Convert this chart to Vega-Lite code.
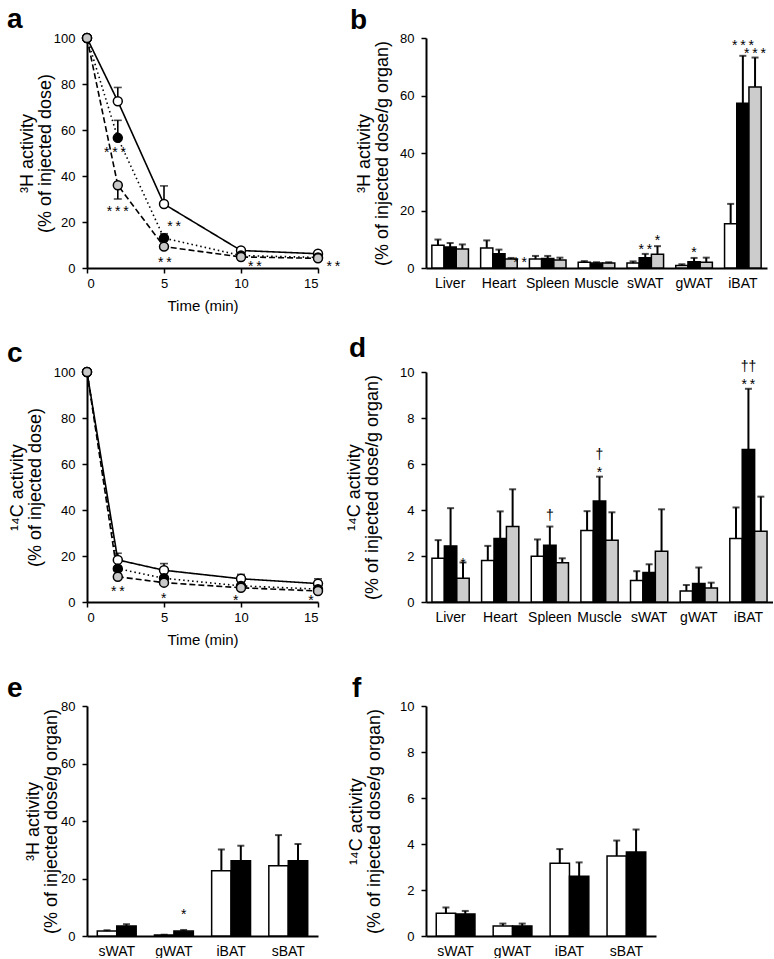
{
  "$schema": "https://vega.github.io/schema/vega-lite/v6.json",
  "background": "white",
  "padding": {"left": 7, "top": 5, "right": 0, "bottom": 0},
  "columns": 2,
  "spacing": {"row": 104, "column": 108},
  "bounds": "flush",
  "align": "each",
  "resolve": {"scale": {"x": "independent", "y": "independent", "xOffset": "independent", "fill": "independent", "strokeDash": "independent"}},
  "config": {
    "font": "Liberation Sans",
    "view": {"stroke": null},
    "axis": {"domainColor": "black", "domainWidth": 2, "tickColor": "black", "tickWidth": 1.5, "tickSize": 5, "labelColor": "black", "labelFontSize": 13, "labelFont": "Liberation Sans", "titleFont": "Liberation Sans", "titleFontSize": 15, "titleFontWeight": "normal", "titleColor": "black", "grid": false, "labelPadding": 7},
    "axisY": {"titleFontSize": 18, "titleLineHeight": 18},
    "title": {"font": "Liberation Sans", "fontSize": 28, "fontWeight": "bold", "anchor": "start", "color": "black", "baseline": "alphabetic", "offset": -3, "frame": "group"}
  },
  "concat": [
    {
      "width": 231, "height": 230,
      "title": {"text": "a", "dx": -80},
      "data": {"values": [
        {"t": 0, "g": "W", "v": 100, "e": null},
        {"t": 2, "g": "W", "v": 72.5, "e": 78.5},
        {"t": 5, "g": "W", "v": 27.8, "e": 35.7},
        {"t": 10, "g": "W", "v": 7.6, "e": null},
        {"t": 15, "g": "W", "v": 6.2, "e": null},
        {"t": 0, "g": "B", "v": 100, "e": null},
        {"t": 2, "g": "B", "v": 56.6, "e": 64.2},
        {"t": 5, "g": "B", "v": 13, "e": 14.9},
        {"t": 10, "g": "B", "v": 5.4, "e": null},
        {"t": 15, "g": "B", "v": 4.6, "e": null},
        {"t": 0, "g": "G", "v": 100, "e": null},
        {"t": 2, "g": "G", "v": 36, "e": 30},
        {"t": 5, "g": "G", "v": 9.3, "e": null},
        {"t": 10, "g": "G", "v": 4.8, "e": null},
        {"t": 15, "g": "G", "v": 4.2, "e": null}
      ]},
      "encoding": {
        "x": {"field": "t", "type": "quantitative", "scale": {"domain": [0, 15], "nice": false}, "axis": {"values": [0, 5, 10, 15], "title": "Time (min)", "labelPadding": 4, "titlePadding": 8}}
      },
      "layer": [
        {"mark": {"type": "line", "color": "black", "strokeWidth": 1.6},
         "encoding": {
           "y": {"field": "v", "type": "quantitative", "scale": {"domain": [0, 100], "nice": false}, "axis": {"values": [0, 20, 40, 60, 80, 100], "title": ["³H activity", "(% of injected dose)"], "titlePadding": -1}},
           "strokeDash": {"field": "g", "type": "nominal", "scale": {"domain": ["W", "B", "G"], "range": [[1, 0], [1.5, 3], [6, 3]]}, "legend": null}
         }},
        {"transform": [{"filter": "datum.e != null"}],
         "mark": {"type": "rule", "color": "black", "strokeWidth": 1.6},
         "encoding": {"y": {"field": "v", "type": "quantitative"}, "y2": {"field": "e"}}},
        {"transform": [{"filter": "datum.e != null"}],
         "mark": {"type": "tick", "orient": "horizontal", "color": "black", "size": 8, "thickness": 1.6},
         "encoding": {"y": {"field": "e", "type": "quantitative"}}},
        {"mark": {"type": "point", "shape": "circle", "filled": true, "size": 80, "stroke": "black", "strokeWidth": 1.5, "opacity": 1},
         "encoding": {
           "y": {"field": "v", "type": "quantitative"},
           "fill": {"field": "g", "type": "nominal", "scale": {"domain": ["W", "B", "G"], "range": ["white", "black", "#c8c8c8"]}, "legend": null}
         }},
        {"data": {"values": [
          {"t": 1.82, "y": 48.4, "s": "*\u2009*\u2009*"},
          {"t": 2.0, "y": 22.4, "s": "*\u2009*\u2009*"},
          {"t": 5.65, "y": 16.1, "s": "*\u2009*"},
          {"t": 5.06, "y": 0.3, "s": "*\u2009*"},
          {"t": 10.9, "y": -1.4, "s": "*\u2009*"},
          {"t": 16.0, "y": -1.4, "s": "*\u2009*"}
         ]},
         "mark": {"type": "text", "fontSize": 14, "color": "black", "baseline": "alphabetic"},
         "encoding": {"x": {"field": "t", "type": "quantitative"}, "y": {"field": "y", "type": "quantitative"}, "text": {"field": "s"}}}
      ]
    },
    {
      "width": 341, "height": 230,
      "title": {"text": "b", "dx": -76},
      "data": {"values": [
        {"o": "Liver", "g": "W", "v": 7.9, "e": 9.9},
        {"o": "Liver", "g": "B", "v": 7.3, "e": 8.7},
        {"o": "Liver", "g": "G", "v": 6.6, "e": 8.2},
        {"o": "Heart", "g": "W", "v": 7.0, "e": 9.6},
        {"o": "Heart", "g": "B", "v": 5.0, "e": 6.4},
        {"o": "Heart", "g": "G", "v": 3.1, "e": 3.5},
        {"o": "Spleen", "g": "W", "v": 3.1, "e": 4.2},
        {"o": "Spleen", "g": "B", "v": 3.3, "e": 4.2},
        {"o": "Spleen", "g": "G", "v": 2.8, "e": 3.6},
        {"o": "Muscle", "g": "W", "v": 2.0, "e": 2.4},
        {"o": "Muscle", "g": "B", "v": 1.7, "e": 2.0},
        {"o": "Muscle", "g": "G", "v": 1.7, "e": 2.0},
        {"o": "sWAT", "g": "W", "v": 1.7, "e": 2.3},
        {"o": "sWAT", "g": "B", "v": 3.6, "e": 4.9},
        {"o": "sWAT", "g": "G", "v": 4.8, "e": 7.6},
        {"o": "gWAT", "g": "W", "v": 0.9, "e": 1.3},
        {"o": "gWAT", "g": "B", "v": 2.2, "e": 3.5},
        {"o": "gWAT", "g": "G", "v": 2.0, "e": 3.6},
        {"o": "iBAT", "g": "W", "v": 15.4, "e": 22.3},
        {"o": "iBAT", "g": "B", "v": 57.3, "e": 73.8},
        {"o": "iBAT", "g": "G", "v": 63, "e": 73.2}
      ]},
      "encoding": {
        "x": {"field": "o", "type": "nominal", "scale": {"domain": ["Liver", "Heart", "Spleen", "Muscle", "sWAT", "gWAT", "iBAT"], "paddingInner": 0.25, "paddingOuter": 0.12}, "axis": {"title": null, "ticks": false, "labelAngle": 0, "labelPadding": 8, "labelFontSize": 14}},
        "xOffset": {"field": "g", "type": "nominal", "scale": {"domain": ["W", "B", "G"]}}
      },
      "layer": [
        {"mark": {"type": "bar", "stroke": "black", "strokeWidth": 1.5},
         "encoding": {
           "y": {"field": "v", "type": "quantitative", "stack": null, "scale": {"domain": [0, 80], "nice": false}, "axis": {"values": [0, 20, 40, 60, 80], "title": ["³H activity", "(% of injected dose/g organ)"], "titlePadding": 8}},
           "fill": {"field": "g", "type": "nominal", "scale": {"domain": ["W", "B", "G"], "range": ["white", "black", "#cccccc"]}, "legend": null}
         }},
        {"mark": {"type": "rule", "color": "black", "strokeWidth": 2},
         "encoding": {"y": {"field": "v", "type": "quantitative"}, "y2": {"field": "e"}}},
        {"mark": {"type": "tick", "orient": "horizontal", "color": "black", "size": 7, "thickness": 2},
         "encoding": {"y": {"field": "e", "type": "quantitative"}}},
        {"data": {"values": [
          {"o": "sWAT", "g": "B", "y": 5.0, "s": "*\u2009*"},
          {"o": "sWAT", "g": "G", "y": 8.1, "s": "*"},
          {"o": "gWAT", "g": "B", "y": 3.7, "s": "*"},
          {"o": "iBAT", "g": "B", "y": 76.0, "s": "*\u2009*\u2009*"},
          {"o": "iBAT", "g": "G", "y": 73.1, "s": "*\u2009*\u2009*"}
         ]},
         "mark": {"type": "text", "fontSize": 14, "color": "black", "baseline": "alphabetic"},
         "encoding": {"y": {"field": "y", "type": "quantitative"}, "text": {"field": "s"}}},
        {"data": {"values": [
          {"o": "Heart", "g": "G", "y": 0.4, "s": "*\u2009*"}
         ]},
         "mark": {"type": "text", "fontSize": 14, "color": "black", "baseline": "alphabetic", "dx": 9},
         "encoding": {"y": {"field": "y", "type": "quantitative"}, "text": {"field": "s"}}}
      ]
    },
    {
      "width": 231, "height": 230,
      "title": {"text": "c", "dx": -80},
      "data": {"values": [
        {"t": 0, "g": "W", "v": 100, "e": null},
        {"t": 2, "g": "W", "v": 18.3, "e": 21.2},
        {"t": 5, "g": "W", "v": 13.8, "e": 16.7},
        {"t": 10, "g": "W", "v": 10.1, "e": 12},
        {"t": 15, "g": "W", "v": 8, "e": 10.1},
        {"t": 0, "g": "B", "v": 100, "e": null},
        {"t": 2, "g": "B", "v": 14.5, "e": null},
        {"t": 5, "g": "B", "v": 10.3, "e": null},
        {"t": 10, "g": "B", "v": 7, "e": null},
        {"t": 15, "g": "B", "v": 5.6, "e": null},
        {"t": 0, "g": "G", "v": 100, "e": null},
        {"t": 2, "g": "G", "v": 11, "e": null},
        {"t": 5, "g": "G", "v": 8.4, "e": null},
        {"t": 10, "g": "G", "v": 6.2, "e": null},
        {"t": 15, "g": "G", "v": 4.8, "e": null}
      ]},
      "encoding": {
        "x": {"field": "t", "type": "quantitative", "scale": {"domain": [0, 15], "nice": false}, "axis": {"values": [0, 5, 10, 15], "title": "Time (min)", "labelPadding": 4, "titlePadding": 8}}
      },
      "layer": [
        {"mark": {"type": "line", "color": "black", "strokeWidth": 1.6},
         "encoding": {
           "y": {"field": "v", "type": "quantitative", "scale": {"domain": [0, 100], "nice": false}, "axis": {"values": [0, 20, 40, 60, 80, 100], "title": ["¹⁴C activity", "(% of injected dose)"], "titlePadding": 9}},
           "strokeDash": {"field": "g", "type": "nominal", "scale": {"domain": ["W", "B", "G"], "range": [[1, 0], [1.5, 3], [6, 3]]}, "legend": null}
         }},
        {"transform": [{"filter": "datum.e != null"}],
         "mark": {"type": "rule", "color": "black", "strokeWidth": 1.6},
         "encoding": {"y": {"field": "v", "type": "quantitative"}, "y2": {"field": "e"}}},
        {"transform": [{"filter": "datum.e != null"}],
         "mark": {"type": "tick", "orient": "horizontal", "color": "black", "size": 8, "thickness": 1.6},
         "encoding": {"y": {"field": "e", "type": "quantitative"}}},
        {"mark": {"type": "point", "shape": "circle", "filled": true, "size": 80, "stroke": "black", "strokeWidth": 1.5, "opacity": 1},
         "encoding": {
           "y": {"field": "v", "type": "quantitative"},
           "fill": {"field": "g", "type": "nominal", "scale": {"domain": ["W", "B", "G"], "range": ["white", "black", "#c8c8c8"]}, "legend": null}
         }},
        {"data": {"values": [
          {"t": 2.0, "y": 2.5, "s": "*\u2009*"},
          {"t": 4.98, "y": -0.4, "s": "*"},
          {"t": 9.65, "y": -1.4, "s": "*"},
          {"t": 14.55, "y": -1.4, "s": "*"}
         ]},
         "mark": {"type": "text", "fontSize": 14, "color": "black", "baseline": "alphabetic"},
         "encoding": {"x": {"field": "t", "type": "quantitative"}, "y": {"field": "y", "type": "quantitative"}, "text": {"field": "s"}}}
      ]
    },
    {
      "width": 347, "height": 230,
      "title": {"text": "d", "dx": -77},
      "data": {"values": [
        {"o": "Liver", "g": "W", "v": 1.9, "e": 2.69},
        {"o": "Liver", "g": "B", "v": 2.44, "e": 4.08},
        {"o": "Liver", "g": "G", "v": 1.03, "e": 1.72},
        {"o": "Heart", "g": "W", "v": 1.8, "e": 2.44},
        {"o": "Heart", "g": "B", "v": 2.76, "e": 3.94},
        {"o": "Heart", "g": "G", "v": 3.28, "e": 4.9},
        {"o": "Spleen", "g": "W", "v": 1.99, "e": 2.72},
        {"o": "Spleen", "g": "B", "v": 2.47, "e": 3.28},
        {"o": "Spleen", "g": "G", "v": 1.71, "e": 1.9},
        {"o": "Muscle", "g": "W", "v": 3.11, "e": 3.95},
        {"o": "Muscle", "g": "B", "v": 4.39, "e": 5.45},
        {"o": "Muscle", "g": "G", "v": 2.69, "e": 3.9},
        {"o": "sWAT", "g": "W", "v": 0.94, "e": 1.34},
        {"o": "sWAT", "g": "B", "v": 1.28, "e": 1.64},
        {"o": "sWAT", "g": "G", "v": 2.21, "e": 4.03},
        {"o": "gWAT", "g": "W", "v": 0.48, "e": 0.74},
        {"o": "gWAT", "g": "B", "v": 0.8, "e": 1.5},
        {"o": "gWAT", "g": "G", "v": 0.61, "e": 0.84},
        {"o": "iBAT", "g": "W", "v": 2.76, "e": 4.11},
        {"o": "iBAT", "g": "B", "v": 6.63, "e": 9.27},
        {"o": "iBAT", "g": "G", "v": 3.08, "e": 4.58}
      ]},
      "encoding": {
        "x": {"field": "o", "type": "nominal", "scale": {"domain": ["Liver", "Heart", "Spleen", "Muscle", "sWAT", "gWAT", "iBAT"], "paddingInner": 0.25, "paddingOuter": 0.12}, "axis": {"title": null, "ticks": false, "labelAngle": 0, "labelPadding": 8, "labelFontSize": 14}},
        "xOffset": {"field": "g", "type": "nominal", "scale": {"domain": ["W", "B", "G"]}}
      },
      "layer": [
        {"mark": {"type": "bar", "stroke": "black", "strokeWidth": 1.5},
         "encoding": {
           "y": {"field": "v", "type": "quantitative", "stack": null, "scale": {"domain": [0, 10], "nice": false}, "axis": {"values": [0, 2, 4, 6, 8, 10], "title": ["¹⁴C activity", "(% of injected dose/g organ)"], "titlePadding": 18}},
           "fill": {"field": "g", "type": "nominal", "scale": {"domain": ["W", "B", "G"], "range": ["white", "black", "#cccccc"]}, "legend": null}
         }},
        {"mark": {"type": "rule", "color": "black", "strokeWidth": 2},
         "encoding": {"y": {"field": "v", "type": "quantitative"}, "y2": {"field": "e"}}},
        {"mark": {"type": "tick", "orient": "horizontal", "color": "black", "size": 7, "thickness": 2},
         "encoding": {"y": {"field": "e", "type": "quantitative"}}},
        {"data": {"values": [
          {"o": "Liver", "g": "G", "y": 1.48, "s": "*"},
          {"o": "Spleen", "g": "B", "y": 3.58, "s": "†"},
          {"o": "Muscle", "g": "B", "y": 5.43, "s": "*"},
          {"o": "Muscle", "g": "B", "y": 6.2, "s": "†"},
          {"o": "iBAT", "g": "B", "y": 9.27, "s": "*\u2009*"},
          {"o": "iBAT", "g": "B", "y": 10.03, "s": "††"}
         ]},
         "mark": {"type": "text", "fontSize": 14, "color": "black", "baseline": "alphabetic"},
         "encoding": {"y": {"field": "y", "type": "quantitative"}, "text": {"field": "s"}}}
      ]
    },
    {
      "width": 231, "height": 230,
      "title": {"text": "e", "dx": -80},
      "data": {"values": [
        {"o": "sWAT", "g": "W", "v": 1.7, "e": 2.0},
        {"o": "sWAT", "g": "B", "v": 3.5, "e": 4.1},
        {"o": "gWAT", "g": "W", "v": 0.35, "e": 0.45},
        {"o": "gWAT", "g": "B", "v": 1.7, "e": 2.1},
        {"o": "iBAT", "g": "W", "v": 22.7, "e": 30.1},
        {"o": "iBAT", "g": "B", "v": 26.2, "e": 31.4},
        {"o": "sBAT", "g": "W", "v": 24.4, "e": 35.1},
        {"o": "sBAT", "g": "B", "v": 26.2, "e": 32}
      ]},
      "encoding": {
        "x": {"field": "o", "type": "nominal", "scale": {"domain": ["sWAT", "gWAT", "iBAT", "sBAT"], "paddingInner": 0.32, "paddingOuter": 0.18}, "axis": {"title": null, "ticks": false, "labelAngle": 0, "labelPadding": 8, "labelFontSize": 14}},
        "xOffset": {"field": "g", "type": "nominal", "scale": {"domain": ["W", "B"]}}
      },
      "layer": [
        {"mark": {"type": "bar", "stroke": "black", "strokeWidth": 1.5},
         "encoding": {
           "y": {"field": "v", "type": "quantitative", "stack": null, "scale": {"domain": [0, 80], "nice": false}, "axis": {"values": [0, 20, 40, 60, 80], "title": ["³H activity", "(% of injected dose/g organ)"], "titlePadding": 0}},
           "fill": {"field": "g", "type": "nominal", "scale": {"domain": ["W", "B"], "range": ["white", "black"]}, "legend": null}
         }},
        {"mark": {"type": "rule", "color": "black", "strokeWidth": 2},
         "encoding": {"y": {"field": "v", "type": "quantitative"}, "y2": {"field": "e"}}},
        {"mark": {"type": "tick", "orient": "horizontal", "color": "black", "size": 7, "thickness": 2},
         "encoding": {"y": {"field": "e", "type": "quantitative"}}},
        {"data": {"values": [
          {"o": "gWAT", "g": "B", "y": 5.9, "s": "*"}
         ]},
         "mark": {"type": "text", "fontSize": 14, "color": "black", "baseline": "alphabetic"},
         "encoding": {"y": {"field": "y", "type": "quantitative"}, "text": {"field": "s"}}}
      ]
    },
    {
      "width": 230, "height": 230,
      "title": {"text": "f", "dx": -74},
      "data": {"values": [
        {"o": "sWAT", "g": "W", "v": 0.99, "e": 1.24},
        {"o": "sWAT", "g": "B", "v": 0.96, "e": 1.09},
        {"o": "gWAT", "g": "W", "v": 0.44, "e": 0.54},
        {"o": "gWAT", "g": "B", "v": 0.44, "e": 0.54},
        {"o": "iBAT", "g": "W", "v": 3.16, "e": 3.78},
        {"o": "iBAT", "g": "B", "v": 2.6, "e": 3.2},
        {"o": "sBAT", "g": "W", "v": 3.48, "e": 4.15},
        {"o": "sBAT", "g": "B", "v": 3.65, "e": 4.63}
      ]},
      "encoding": {
        "x": {"field": "o", "type": "nominal", "scale": {"domain": ["sWAT", "gWAT", "iBAT", "sBAT"], "paddingInner": 0.32, "paddingOuter": 0.18}, "axis": {"title": null, "ticks": false, "labelAngle": 0, "labelPadding": 8, "labelFontSize": 14}},
        "xOffset": {"field": "g", "type": "nominal", "scale": {"domain": ["W", "B"]}}
      },
      "layer": [
        {"mark": {"type": "bar", "stroke": "black", "strokeWidth": 1.5},
         "encoding": {
           "y": {"field": "v", "type": "quantitative", "stack": null, "scale": {"domain": [0, 10], "nice": false}, "axis": {"values": [0, 2, 4, 6, 8, 10], "title": ["¹⁴C activity", "(% of injected dose/g organ)"], "titlePadding": 16}},
           "fill": {"field": "g", "type": "nominal", "scale": {"domain": ["W", "B"], "range": ["white", "black"]}, "legend": null}
         }},
        {"mark": {"type": "rule", "color": "black", "strokeWidth": 2},
         "encoding": {"y": {"field": "v", "type": "quantitative"}, "y2": {"field": "e"}}},
        {"mark": {"type": "tick", "orient": "horizontal", "color": "black", "size": 7, "thickness": 2},
         "encoding": {"y": {"field": "e", "type": "quantitative"}}}
      ]
    }
  ]
}
